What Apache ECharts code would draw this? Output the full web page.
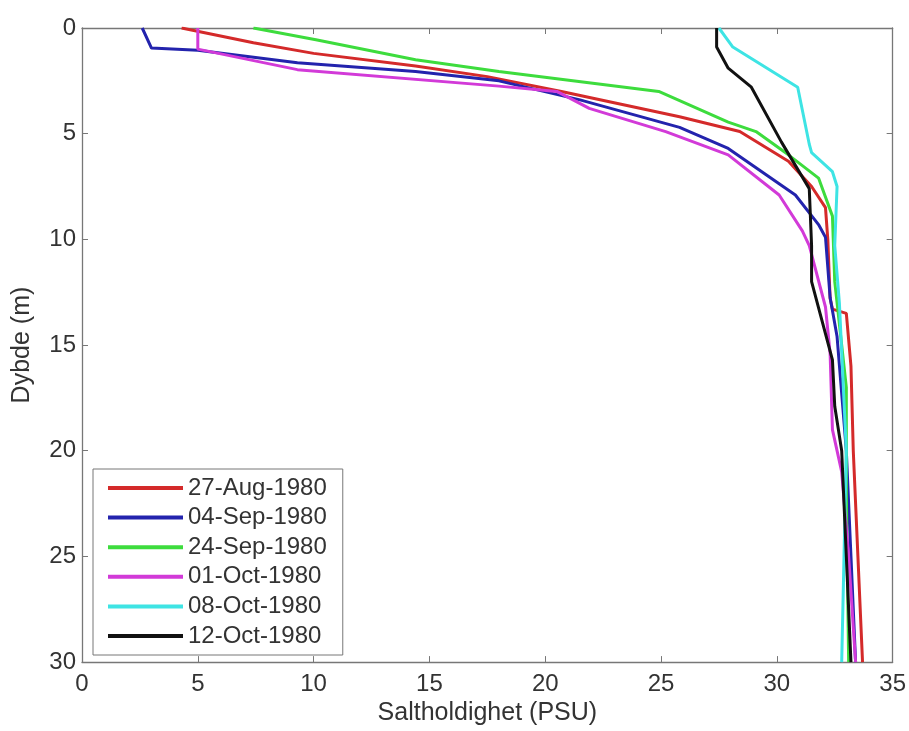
<!DOCTYPE html>
<html><head><meta charset="utf-8">
<script src="https://cdn.jsdelivr.net/npm/echarts@6/dist/echarts.min.js"></script>
<style>html,body{margin:0;padding:0;background:#fff;overflow:hidden}#c{width:909px;height:731px}</style>
</head><body><div id="c"></div>
<script>
const seriesNames = ['27-Aug-1980','04-Sep-1980','24-Sep-1980','01-Oct-1980','08-Oct-1980','12-Oct-1980'];
const seriesColors = ['#d42a2a','#2323ad','#3ddc3d','#d23ad8','#3ee4e4','#111111'];

const augSal  = [4.3, 7.4, 10.0, 14.4, 17.5, 20.7, 25.8, 28.4, 30.5, 31.5, 32.1, 32.2, 32.3, 32.4, 33.0, 33.2, 33.3, 33.5, 33.7];
const augDep  = [0, 0.7, 1.2, 1.8, 2.3, 3.0, 4.2, 4.9, 6.3, 7.5, 8.5, 10, 12.8, 13.3, 13.5, 16, 20, 25, 30];

const sep04Sal = [2.6, 3.0, 5.0, 9.3, 14.4, 18.0, 21.5, 25.8, 27.9, 30.8, 31.8, 32.1, 32.3, 32.6, 33.0, 33.2, 33.4];
const sep04Dep = [0, 0.95, 1.05, 1.64, 2.06, 2.5, 3.4, 4.7, 5.7, 7.9, 9.3, 9.9, 12.75, 14.6, 20, 25, 30];

const sep24Sal = [7.4, 10.1, 14.4, 18.0, 24.9, 27.9, 29.1, 30.5, 31.8, 32.4, 32.5, 32.8, 33.0, 33.0, 33.1];
const sep24Dep = [0, 0.56, 1.5, 2.06, 3.0, 4.45, 4.9, 6.0, 7.1, 8.9, 12, 15, 17, 22, 30];

const oct01Sal = [5.0, 5.0, 9.3, 18.0, 20.5, 21.9, 25.2, 27.9, 30.1, 31.1, 31.4, 32.1, 32.3, 32.4, 32.8, 33.1, 33.4];
const oct01Dep = [0, 1.0, 1.97, 2.75, 3.0, 3.8, 4.9, 6.0, 7.9, 9.6, 10.3, 13.2, 15.4, 19, 21, 25, 30];

const oct08Sal = [27.5, 28.1, 30.9, 31.4, 31.5, 32.4, 32.6, 32.5, 32.7, 33.0, 32.9, 32.8];
const oct08Dep = [0, 0.9, 2.8, 5.5, 5.9, 6.8, 7.5, 10.3, 13, 20, 25, 30];

const oct12Sal = [27.4, 27.4, 27.9, 28.9, 30.2, 31.4, 31.5, 31.5, 32.4, 32.5, 32.8, 33.0, 33.2];
const oct12Dep = [0, 0.9, 1.9, 2.8, 5.4, 7.6, 10.3, 12, 15.7, 17.9, 20, 25, 30];

const salList = [augSal, sep04Sal, sep24Sal, oct01Sal, oct08Sal, oct12Sal];
const depList = [augDep, sep04Dep, sep24Dep, oct01Dep, oct08Dep, oct12Dep];

const font = 'Liberation Sans, Arial, Helvetica, sans-serif';
const txt = '#333';
const axisCol = '#777';

const chart = echarts.init(document.getElementById('c'));
const baseAxis = {
  axisLine: {show: true, onZero: false, lineStyle: {color: axisCol, width: 1.3}},
  axisTick: {show: true, inside: true, length: 6, lineStyle: {color: axisCol}},
  splitLine: {show: false},
};
chart.setOption({
  backgroundColor: '#fff',
  animation: false,
  grid: {left: 82, right: 15, top: 28, bottom: 63, containLabel: false},
  xAxis: [
    Object.assign({}, baseAxis, {type: 'value', min: 0, max: 35, interval: 5, position: 'bottom',
      name: 'Saltholdighet (PSU)', nameLocation: 'middle', nameGap: 32,
      nameTextStyle: {fontFamily: font, fontSize: 25, color: txt},
      axisLabel: {fontFamily: font, fontSize: 24, color: txt, margin: 10}}),
    Object.assign({}, baseAxis, {type: 'value', min: 0, max: 35, interval: 5, position: 'top',
      axisLabel: {show: false}})
  ],
  yAxis: [
    Object.assign({}, baseAxis, {type: 'value', inverse: true, min: 0, max: 30, interval: 5, position: 'left',
      name: 'Dybde (m)', nameLocation: 'middle', nameGap: 47, nameRotate: 90,
      nameTextStyle: {fontFamily: font, fontSize: 25, color: txt},
      axisLabel: {fontFamily: font, fontSize: 24, color: txt, margin: 6}}),
    Object.assign({}, baseAxis, {type: 'value', inverse: true, min: 0, max: 30, interval: 5, position: 'right',
      axisLabel: {show: false}})
  ],
  legend: {
    orient: 'vertical', left: 93, top: 469,
    padding: [7, 16, 7, 15],
    itemWidth: 75, itemHeight: 4, itemGap: 5.6,
    icon: 'rect',
    borderColor: axisCol, borderWidth: 1, backgroundColor: '#fff',
    textStyle: {fontFamily: font, fontSize: 24, color: txt, lineHeight: 24},
    data: seriesNames
  },
  series: seriesNames.map((n, i) => ({
    name: n, type: 'line', xAxisIndex: 0, yAxisIndex: 0,
    showSymbol: false, symbol: 'none',
    lineStyle: {color: seriesColors[i], width: 3},
    itemStyle: {color: seriesColors[i]},
    data: salList[i].map((s, k) => [s, depList[i][k]])
  }))
});
</script></body></html>
